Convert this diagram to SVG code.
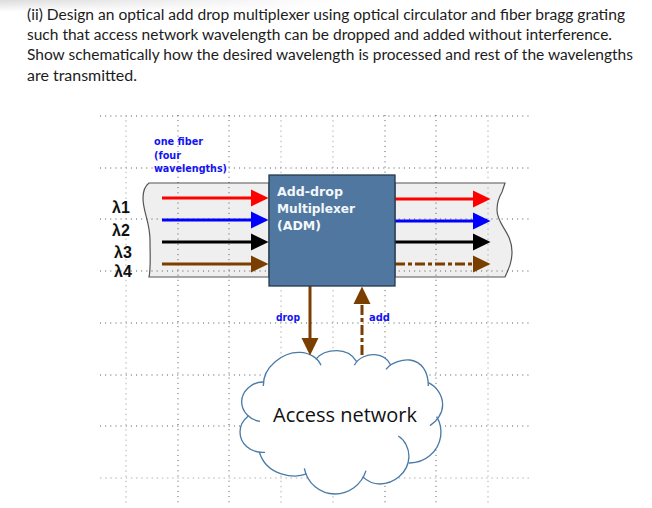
<svg xmlns="http://www.w3.org/2000/svg" width="652" height="508" viewBox="0 0 652 508">
<style>
.q{font:15.6px "Lato",sans-serif;fill:#1c1c1c}
.blue{font:bold 10px "DejaVu Sans",sans-serif;fill:#1414f0}
.adm{font:bold 12.5px "DejaVu Sans",sans-serif;fill:#f4f7fa}
.lam{font:bold 16px "Liberation Sans",sans-serif;fill:#111}
.gk{stroke:#444;stroke-width:.9;stroke-dasharray:1 4.15;fill:none}
.gg{stroke:#aaa;stroke-width:.9;stroke-dasharray:1.5 3.65;fill:none}
.fiber{fill:#efefef;stroke:#555;stroke-width:1.2}
.ln{fill:none;stroke-width:3}
.cl{fill:none;stroke:#4a7ba7;stroke-width:4}
</style>
<defs>
<linearGradient id="top" x1="0" y1="0" x2="1" y2="0"><stop offset="0" stop-color="#dcdcdc"/><stop offset=".5" stop-color="#eee"/><stop offset="1" stop-color="#fff"/></linearGradient>
<linearGradient id="fade" x1="0" y1="0" x2="0" y2="1"><stop offset="0" stop-color="#fff" stop-opacity="0"/><stop offset="1" stop-color="#fff"/></linearGradient>
<marker id="hr" markerUnits="userSpaceOnUse" markerWidth="18" markerHeight="18" refX="0" refY="9" orient="auto"><path d="M0,.5 L17.5,9 L0,17.5Z" fill="#f00"/></marker>
<marker id="hb" markerUnits="userSpaceOnUse" markerWidth="18" markerHeight="18" refX="0" refY="9" orient="auto"><path d="M0,.5 L17.5,9 L0,17.5Z" fill="#00f"/></marker>
<marker id="hk" markerUnits="userSpaceOnUse" markerWidth="18" markerHeight="18" refX="0" refY="9" orient="auto"><path d="M0,.5 L17.5,9 L0,17.5Z" fill="#000"/></marker>
<marker id="hn" markerUnits="userSpaceOnUse" markerWidth="18" markerHeight="18" refX="0" refY="9" orient="auto"><path d="M0,.5 L17.5,9 L0,17.5Z" fill="#7a3f00"/></marker>
</defs>
<rect width="652" height="508" fill="#fff"/>
<rect width="340" height="12" fill="url(#top)"/>
<rect width="340" height="12" fill="url(#fade)"/>
<g id="question">
<text class="q" x="27" y="20" textLength="598" lengthAdjust="spacingAndGlyphs">(ii) Design an optical add drop multiplexer using optical circulator and fiber bragg grating</text>
<text class="q" x="27" y="40" textLength="585" lengthAdjust="spacingAndGlyphs">such that access network wavelength can be dropped and added without interference.</text>
<text class="q" x="27" y="60" textLength="606" lengthAdjust="spacingAndGlyphs">Show schematically how the desired wavelength is processed and rest of the wavelengths</text>
<text class="q" x="27" y="81" textLength="110" lengthAdjust="spacingAndGlyphs">are transmitted.</text>
</g>
<g id="fiber-bands">
<path class="fiber" d="M269,183 H149 C145,186 143,191 143,198 C143,212 150,222 150,240 C150,255 151,268 149,277 H269Z"/>
<path class="fiber" d="M395,183 H505 L502,192 C499,197 497,203 497,210 C497,225 512,232 512,252 C512,262 509,268 505,277 H395Z"/>
</g>
<g id="grid">
<path class="gk" d="M100,116H530M100,168H530M100,219H530M100,271H530M100,323H530M100,375H530M100,426H530"/>
<path class="gg" d="M100,478H530M126,115V505M281,115V505M333,115V505M488,115V505"/>
<path class="gk" d="M178,115V505M229,115V505M385,115V505M436,115V505"/>
</g>
<g id="cloud">
<path fill="#fff" transform="translate(220 280) scale(.3333)" d="M130,318 C128,260 190,215 240,217 C270,218 290,235 295,240 C310,222 325,212 350,212 C380,212 400,228 407,250 C415,232 445,222 465,224 C490,226 505,245 505,262 C515,245 550,238 570,240 C605,245 625,275 625,312 C650,320 668,345 668,375 C668,400 660,410 650,415 C662,430 665,450 662,470 C655,515 615,550 567,549 C560,580 520,612 480,612 C460,612 440,602 433,585 C425,615 385,642 345,642 C300,642 262,610 256,575 C225,595 140,590 122,516 C90,520 60,490 60,455 C60,435 70,420 85,410 C70,395 65,380 65,365 C65,335 95,305 130,306Z"/>
<g transform="translate(220 280) scale(.3333)">
<path class="cl" d="M130,318 C128,260 190,215 240,217 C270,218 295,235 303,256"/>
<path class="cl" d="M287,238 C300,222 325,212 350,212 C380,212 400,228 410,245"/>
<path class="cl" d="M403,256 C415,232 445,222 465,224 C490,226 505,240 512,255"/>
<path class="cl" d="M498,268 C515,245 550,238 570,240 C605,245 625,275 625,318"/>
<path class="cl" d="M625,308 C650,320 668,345 668,375 C668,400 650,425 630,437"/>
<path class="cl" d="M650,410 C662,430 665,450 662,470 C655,515 615,550 567,549"/>
<path class="cl" d="M535,468 C555,480 567,505 567,530 C565,580 520,612 480,612 C460,612 440,602 428,590"/>
<path class="cl" d="M438,572 C425,615 385,642 345,642 C300,642 262,610 253,565"/>
<path class="cl" d="M260,582 C225,595 140,590 118,516"/>
<path class="cl" d="M135,517 C90,520 60,490 60,455 C60,435 70,420 85,408"/>
<path class="cl" d="M120,424 C90,420 65,395 65,365 C65,335 95,305 130,306"/>
</g>
<text x="273" y="422" font-family="Open Sans, sans-serif" font-size="20" fill="#111" textLength="144" lengthAdjust="spacingAndGlyphs">Access network</text>
</g>
<g id="connectors">
<path class="ln" stroke="#f00" marker-end="url(#hr)" d="M162,198H251"/>
<path class="ln" stroke="#00f" marker-end="url(#hb)" d="M162,220H251"/>
<path class="ln" stroke="#000" marker-end="url(#hk)" d="M162,242H251"/>
<path class="ln" stroke="#7a3f00" marker-end="url(#hn)" d="M162,264H251"/>
<path class="ln" stroke="#f00" marker-end="url(#hr)" d="M395,199H473"/>
<path class="ln" stroke="#00f" marker-end="url(#hb)" d="M395,221H473"/>
<path class="ln" stroke="#000" marker-end="url(#hk)" d="M395,242H473"/>
<path class="ln" stroke="#7a3f00" stroke-dasharray="10 3 4 3" marker-end="url(#hn)" d="M395,264H473"/>
<path class="ln" stroke="#7a3f00" marker-end="url(#hn)" d="M310,286V338"/>
<path class="ln" stroke="#7a3f00" stroke-dasharray="10 3 4 3" marker-end="url(#hn)" d="M362,355V304"/>
</g>
<g id="adm">
<rect x="269" y="175" width="126" height="111" fill="#4f77a0" stroke="#24394f" stroke-width="1.3"/>
<text class="adm" x="277" y="196" textLength="66" lengthAdjust="spacingAndGlyphs">Add-drop</text>
<text class="adm" x="277" y="213" textLength="78" lengthAdjust="spacingAndGlyphs">Multiplexer</text>
<text class="adm" x="277" y="230" textLength="44" lengthAdjust="spacingAndGlyphs">(ADM)</text>
</g>
<g id="labels">
<text class="blue" x="154" y="145" textLength="49" lengthAdjust="spacingAndGlyphs">one fiber</text>
<text class="blue" x="154" y="159" textLength="27" lengthAdjust="spacingAndGlyphs">(four</text>
<text class="blue" x="154" y="172" textLength="73" lengthAdjust="spacingAndGlyphs">wavelengths)</text>
<text class="blue" x="276" y="321" textLength="24" lengthAdjust="spacingAndGlyphs">drop</text>
<text class="blue" x="369" y="321" textLength="21" lengthAdjust="spacingAndGlyphs">add</text>
<text class="lam" x="112" y="213">λ1</text>
<text class="lam" x="112" y="236">λ2</text>
<text class="lam" x="114" y="258">λ3</text>
<text class="lam" x="114" y="277">λ4</text>
</g>
</svg>
